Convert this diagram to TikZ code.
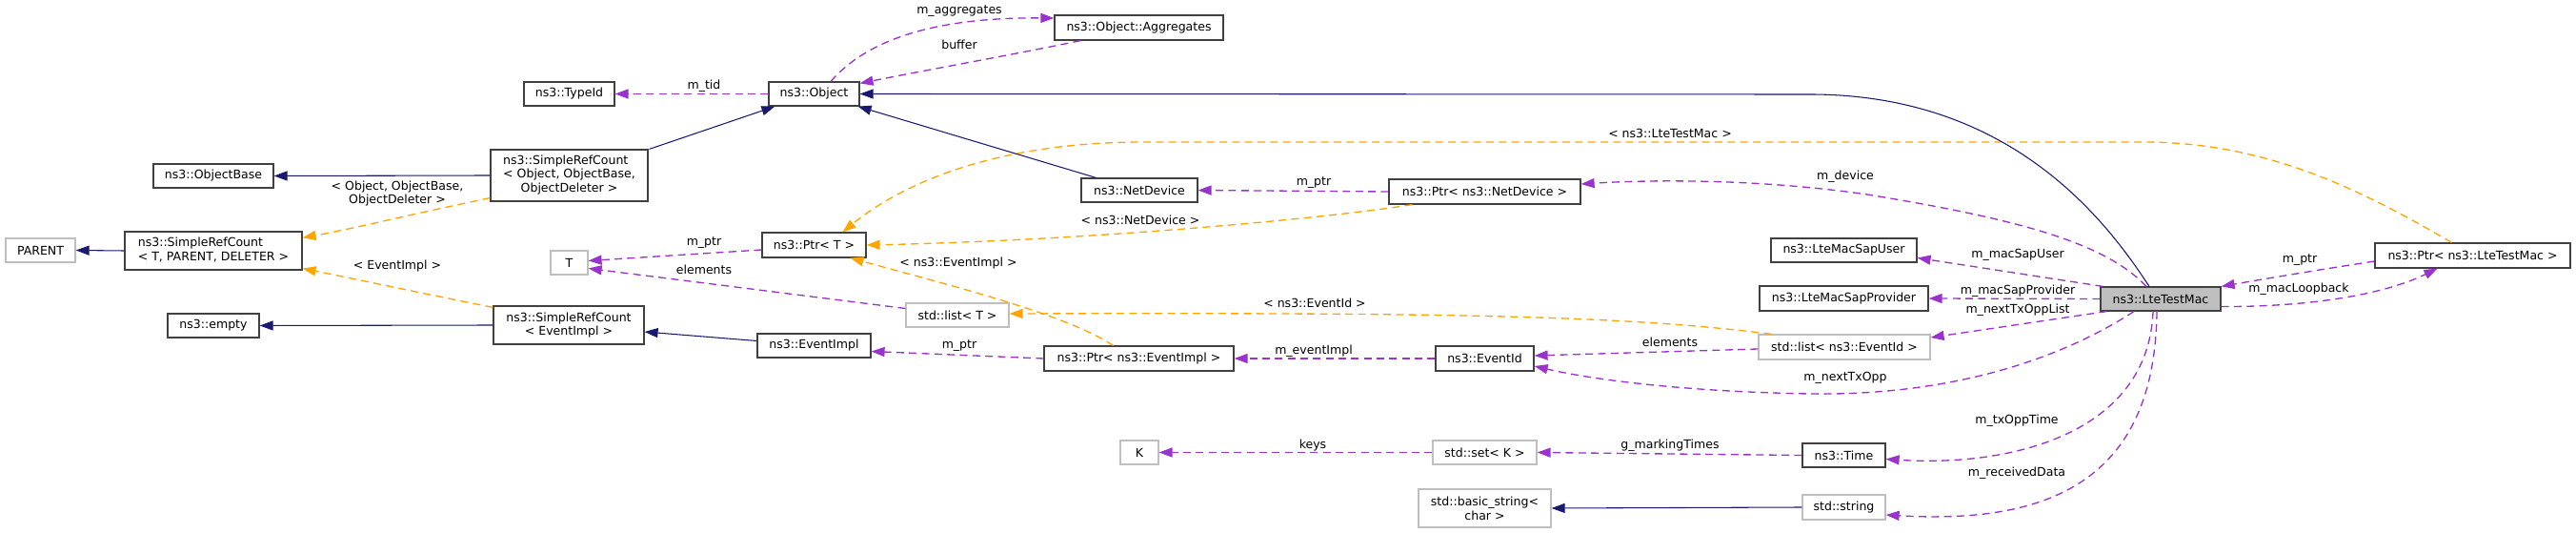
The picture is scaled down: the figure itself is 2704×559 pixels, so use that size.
\documentclass[tikz,border=0pt]{standalone}
\usepackage{fontspec}
\setmainfont{DejaVu Sans}
\usetikzlibrary{arrows.meta,calc}
\definecolor{usec}{HTML}{9A32CD}
\definecolor{tplc}{HTML}{FFA500}
\definecolor{inhc}{HTML}{191970}
\definecolor{grayb}{HTML}{BFBFBF}
\definecolor{bordc}{HTML}{404040}
\newcommand\nbox[7]{%
  \pgfmathsetmacro\nbcx{(#2+#4)/2}%
  \pgfmathsetmacro\nbcy{(#3+#5)/2}%
  \pgfmathsetmacro\nbw{(#4-#2)*0.75}%
  \pgfmathsetmacro\nbh{(#5-#3)*0.75}%
  \node[#6, minimum width=\nbw pt, minimum height=\nbh pt] (#1) at (\nbcx,\nbcy) {#7};}
\begin{document}
\begin{tikzpicture}[x=0.75pt,y=-0.75pt,
  font=\fontsize{9.4}{11}\selectfont,
  cls/.style={draw=bordc, line width=0.9pt, inner sep=0pt, align=center, fill=white},
  ucls/.style={cls, draw=grayb},
  cur/.style={cls, fill=grayb},
  tip/.style={-{Triangle[length=10.5pt,width=7.5pt]}},
  use/.style={tip, draw=usec, line width=1pt, dash pattern=on 6pt off 4pt},
  tpl/.style={tip, draw=tplc, line width=1pt, dash pattern=on 6pt off 4pt},
  inh/.style={tip, draw=inhc, line width=0.8pt},
  lbl/.style={inner sep=0pt, align=center}]
\useasboundingbox (0,0) rectangle (2704,559);
% nodes
\nbox{agg}{1107}{16}{1284}{42}{cls}{ns3::Object::Aggregates}
\nbox{typeid}{550}{86}{645}{111}{cls}{ns3::TypeId}
\nbox{obj}{807}{86}{902}{111}{cls}{ns3::Object}
\nbox{objbase}{161}{172}{287}{197}{cls}{ns3::ObjectBase}
\nbox{srcobj}{515}{157}{680}{211}{cls}{\begin{tabular}{@{}l@{}}ns3::SimpleRefCount\\< Object, ObjectBase,\\\multicolumn{1}{@{}c@{}}{ObjectDeleter >}\end{tabular}}
\nbox{parent}{6}{250}{79}{275}{ucls}{PARENT}
\nbox{srct}{131}{243}{317}{283}{cls}{\begin{tabular}{@{}l@{}}ns3::SimpleRefCount\\< T, PARENT, DELETER >\end{tabular}}
\nbox{T}{578}{263}{617}{288}{ucls}{T}
\nbox{ptrT}{800}{244}{909}{270}{cls}{ns3::Ptr< T >}
\nbox{netdev}{1135}{187}{1257}{212}{cls}{ns3::NetDevice}
\nbox{ptrnd}{1458}{188}{1659}{214}{cls}{ns3::Ptr< ns3::NetDevice >}
\nbox{listT}{951}{318}{1059}{343}{ucls}{std::list< T >}
\nbox{empty}{176}{329}{272}{354}{cls}{ns3::empty}
\nbox{srcev}{518}{321}{676}{361}{cls}{ns3::SimpleRefCount\\< EventImpl >}
\nbox{evimpl}{795}{350}{914}{375}{cls}{ns3::EventImpl}
\nbox{ptrev}{1096}{363}{1295}{389}{cls}{ns3::Ptr< ns3::EventImpl >}
\nbox{evid}{1507}{363}{1610}{389}{cls}{ns3::EventId}
\nbox{listev}{1846}{351}{2026}{377}{ucls}{std::list< ns3::EventId >}
\nbox{sapuser}{1859}{250}{2012}{275}{cls}{ns3::LteMacSapUser}
\nbox{sapprov}{1847}{300}{2024}{326}{cls}{ns3::LteMacSapProvider}
\nbox{lte}{2205}{301}{2331}{326}{cur}{ns3::LteTestMac}
\nbox{ptrlte}{2493}{255}{2698}{281}{cls}{ns3::Ptr< ns3::LteTestMac >}
\nbox{K}{1176}{462}{1216}{487}{ucls}{K}
\nbox{setK}{1504}{462}{1613}{487}{ucls}{std::set< K >}
\nbox{time}{1892}{465}{1979}{490}{cls}{ns3::Time}
\nbox{bstr}{1489}{513}{1628}{553}{ucls}{std::basic\_string<\\char >}
\nbox{str}{1892}{519}{1979}{545}{ucls}{std::string}
% usage edges (purple)
\draw[use] ($(obj.north)+(17.5,0)$) .. controls (910,42) and (980,18) .. ($(agg.west)+(0,-10)$);
\node[lbl] at (1007,12) {m\_aggregates};
\draw[use] ($(agg.south west)+(28,0)$) .. controls (1060,58) and (980,72) .. ($(obj.north east)+(0,2)$);
\node[lbl] at (1007,47) {buffer};
\draw[use] (obj.west) -- (typeid.east);
\node[lbl] at (739,90) {m\_tid};
\draw[use] (ptrnd.west) -- (netdev.east);
\node[lbl] at (1379,192) {m\_ptr};
\draw[use] ($(ptrT.west)+(0,5)$) -- ($(T.east)+(0,-2)$);
\node[lbl] at (739,255) {m\_ptr};
\draw[use] ($(listT.west)+(0,-7)$) -- ($(T.east)+(0,6)$);
\node[lbl] at (739,283) {elements};
\draw[use] (ptrev.west) -- ($(evimpl.east)+(0,6)$);
\node[lbl] at (1007,363) {m\_ptr};
\draw[use] (evid.west) -- (ptrev.east);
\node[lbl] at (1379,368) {m\_eventImpl};
\draw[use] ($(listev.west)+(0,2)$) -- ($(evid.east)+(0,-3)$);
\node[lbl] at (1753,359) {elements};
\draw[use] ($(lte.south)+(-28,0)$) .. controls (2150,385) and (2030,415) .. (1900,413) .. controls (1780,411) and (1680,400) .. ($(evid.east)+(0,8)$);
\node[lbl] at (1937,396) {m\_nextTxOpp};
\draw[use] ($(lte.north)+(-15,0)$) .. controls (2210,255) and (2120,230) .. (1960,204) .. controls (1850,188) and (1740,188) .. ($(ptrnd.east)+(0,-8)$);
\node[lbl] at (1937,185) {m\_device};
\draw[use] ($(lte.north west)+(3,0)$) -- ($(sapuser.east)+(0,8)$);
\node[lbl] at (2118,267) {m\_macSapUser};
\draw[use] (lte.west) -- (sapprov.east);
\node[lbl] at (2118,305) {m\_macSapProvider};
\draw[use] ($(lte.south west)+(7,0)$) -- ($(listev.east)+(0,-10)$);
\node[lbl] at (2118,325) {m\_nextTxOppList};
\draw[use] ($(lte.south)+(-8,0)$) .. controls (2255,455) and (2110,490) .. ($(time.east)+(0,4)$);
\node[lbl] at (2117,441) {m\_txOppTime};
\draw[use] ($(lte.south)+(-4,0)$) .. controls (2262,505) and (2150,550) .. ($(str.east)+(0,8)$);
\node[lbl] at (2117,496) {m\_receivedData};
\draw[use] (time.west) -- (setK.east);
\node[lbl] at (1753,467) {g\_markingTimes};
\draw[use] (setK.west) -- (K.east);
\node[lbl] at (1378,467) {keys};
\draw[use] ($(ptrlte.west)+(0,6)$) .. controls (2440,282) and (2380,292) .. (lte.north east);
\node[lbl] at (2414,273) {m\_ptr};
\draw[use] ($(lte.east)+(0,8)$) .. controls (2420,322) and (2500,310) .. ($(ptrlte.south)+(-37,0)$);
\node[lbl] at (2413,303) {m\_macLoopback};
% template edges (orange)
\draw[tpl] ($(srcobj.south west)+(0,-4)$) .. controls (430,225) and (370,240) .. ($(srct.north east)+(0,7)$);
\node[lbl] at (417,203) {< Object, ObjectBase,\\ObjectDeleter >};
\draw[tpl] ($(srcev.north west)+(0,2)$) .. controls (430,305) and (370,292) .. ($(srct.south east)+(0,-2)$);
\node[lbl] at (417,279) {< EventImpl >};
\draw[tpl] ($(ptrnd.south west)+(25,0)$) .. controls (1400,228) and (1150,252) .. ($(ptrT.east)+(0,0)$);
\node[lbl] at (1197,231) {< ns3::NetDevice >};
\draw[tpl] ($(ptrev.north)+(-27,0)$) .. controls (1120,330) and (1000,300) .. ($(ptrT.south east)+(-17,0)$);
\node[lbl] at (1006,276) {< ns3::EventImpl >};
\draw[tpl] ($(listev.north west)+(14,0)$) .. controls (1700,330) and (1500,328) .. ($(listT.east)+(0,-1.5)$);
\node[lbl] at (1380,318) {< ns3::EventId >};
\draw[tpl] ($(ptrlte.north)+(-22,0)$) .. controls (2480,200) and (2380,149) .. (2250,149) -- (1200,149) .. controls (1050,149) and (950,190) .. ($(ptrT.north)+(30,0)$);
\node[lbl] at (1753,140) {< ns3::LteTestMac >};
% inheritance edges (navy)
\draw[inh] (srcobj.west) -- (objbase.east);
\draw[inh] (srct.west) -- (parent.east);
\draw[inh] (srcev.west) -- (empty.east);
\draw[inh] ($(evimpl.west)+(0,-5)$) -- ($(srcev.east)+(0,7)$);
\draw[inh] ($(srcobj.north east)+(1,0)$) -- ($(obj.south west)+(7,0)$);
\draw[inh] ($(netdev.north west)+(16,0)$) -- ($(obj.south east)+(-2,0)$);
\draw[inh] ($(lte.north)+(-12,0)$) .. controls (2210,230) and (2110,99) .. (1900,99) -- (obj.east);
\draw[inh] (str.west) -- (bstr.east);
\end{tikzpicture}
\end{document}
